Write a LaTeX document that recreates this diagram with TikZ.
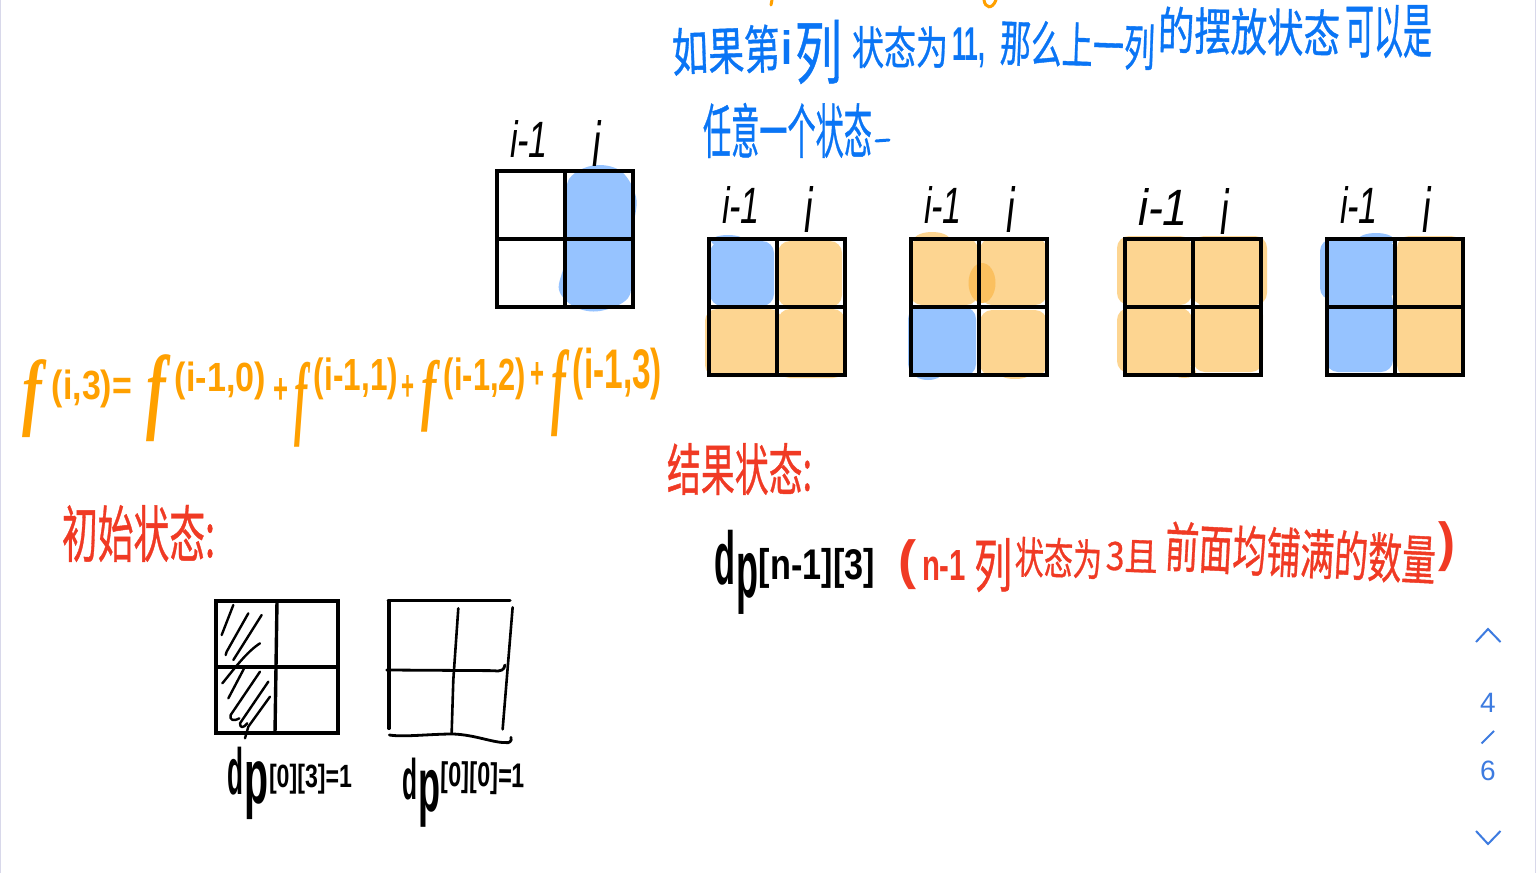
\documentclass[tikz,border=0pt]{standalone}
\usepackage{graphicx}
\usepackage{fontspec}
\setmainfont{Liberation Sans}
\newfontfamily\cjk{Noto Sans CJK SC}[FakeBold=0.8]
\newfontfamily\lser{Liberation Serif}
\newfontfamily\lsan{Liberation Sans}
\definecolor{inkblue}{HTML}{0A75F5}
\definecolor{inkorange}{HTML}{FFA000}
\definecolor{inkred}{HTML}{F03A24}
\definecolor{padblue}{HTML}{96C3FF}
\definecolor{padorange}{HTML}{FDD591}
\definecolor{paddark}{HTML}{FBC05F}
\definecolor{navblue}{HTML}{3D7BE0}
\definecolor{edgeline}{HTML}{D8D8EA}
\tikzset{
  handtext/.style={inner sep=0pt,outer sep=0pt},
  gridline/.style={line width=3.4pt,line cap=rect,line join=miter,black},
  penline/.style={line width=2.4pt,line cap=round,line join=round,black},
  navline/.style={line width=2pt,navblue,line join=miter},
  navtext/.style={inner sep=0pt,text=navblue,font=\lsan\fontsize{28}{28}\selectfont},
  pad/.style={rounded corners=12pt}
}
% name, x0, y0, x1, y1, rotation, colour, text
\newcommand\hw[8]{%
  \pgfmathsetmacro\hwW{#4-#2}\pgfmathsetmacro\hwH{#5-#3}%
  \node[handtext,rotate=#6,text=#7] (#1) at ({(#2+#4)/2},{(#3+#5)/2})
    {\resizebox*{\hwW pt}{\hwH pt}{#8}};}
\newcommand\bigf{\lser\bfseries\itshape\kern.14em f\kern.14em}
\newcommand\gridbox[2]{%
  \draw[gridline] (#1,#2) rectangle ++(136,136);
  \draw[gridline] (#1+68,#2) -- ++(0,136);
  \draw[gridline] (#1,#2+68) -- ++(136,0);}
\newcommand\pd[5]{\fill[pad,#1] (#2,#3) rectangle (#4,#5);}
\newcommand\collabel[5]{% prefix, i-1 x0, i-1 x1, i x0, y0
  \hw{#1a}{#2}{#5}{#3}{#5+37}{0}{black}{\lsan\itshape i-1}
  \hw{#1b}{#4}{#5+10}{#4+13}{#5+36}{0}{black}{\lsan\itshape\kern.06em i\kern.06em}}
\begin{document}
\begin{tikzpicture}[x=1pt,y=-1pt]
\useasboundingbox (0,0) rectangle (1536,873);
\fill[white] (0,0) rectangle (1536,873);
\draw[edgeline,line width=1.2pt] (0.5,0) -- (0.5,873);
\draw[edgeline,line width=1.2pt] (1535.5,0) -- (1535.5,873);

% cut-off strokes at the top edge
\draw[inkorange,line width=3pt,line cap=round] (772,0) -- (771,5);
\draw[inkorange,line width=3pt,line cap=round] (984,0) .. controls (985,8) and (992,10) .. (996,0);

% coloured pads
\fill[padblue] plot[smooth cycle,tension=0.6] coordinates {(598,165) (622,172) (636,197) (634,225) (631,270) (628,298) (600,311) (575,307) (559,290) (564,265) (565,240) (566,190) (575,173)};

\pd{padblue}{710}{241}{774}{306}
\fill[padblue] (728,241) ellipse (17 and 6);
\pd{padorange}{705}{309}{782}{377}
\pd{padorange}{778}{241}{842}{307}
\pd{padorange}{778}{309}{845}{378}

\pd{padorange}{910}{238}{978}{305}
\fill[padorange] (932,240) ellipse (18 and 8);
\pd{padorange}{980}{238}{1047}{305}
\fill[paddark] (982,283) ellipse (13.5 and 20);
\pd{padblue}{908}{307}{976}{376}
\fill[padblue] (928,373) ellipse (14 and 7);
\pd{padorange}{980}{310}{1047}{376}
\fill[padorange] (1015,374) ellipse (15 and 5);

\pd{padorange}{1117}{236}{1192}{305}
\pd{padorange}{1192}{236}{1267}{305}
\pd{padorange}{1117}{308}{1192}{373}
\fill[padorange] (1184,372) ellipse (12 and 6);
\pd{padorange}{1193}{303}{1263}{372}

\pd{padblue}{1320}{239}{1395}{300}
\fill[padblue] (1376,240) ellipse (18 and 7);
\pd{padblue}{1326}{290}{1393}{372}
\pd{padorange}{1397}{236}{1463}{377}

% grids
\gridbox{497}{171}
\gridbox{709}{239}
\gridbox{911}{239}
\gridbox{1125}{239}
\gridbox{1327}{239}

% column labels
\collabel{ga}{510}{548}{590}{120}
\collabel{gb}{722}{760}{802}{186}
\collabel{gc}{924}{962}{1004}{186}
\collabel{gd}{1138}{1188}{1218}{188}
\collabel{ge}{1340}{1378}{1420}{186}

% blue headline
\hw{t1}{672}{26}{780}{74}{2}{inkblue}{\cjk 如果第}
\hw{t2}{781}{30}{792}{64}{0}{inkblue}{\lsan\bfseries i}
\hw{t3}{795}{20}{842}{84}{0}{inkblue}{\cjk 列}
\hw{t4}{852}{26}{948}{68}{0}{inkblue}{\cjk 状态为}
\hw{t5}{952}{28}{985}{68}{0}{inkblue}{\lsan\bfseries 11,}
\hw{t6}{1000}{22}{1155}{68}{-2}{inkblue}{\cjk 那么上一列}
\hw{t7}{1158}{8}{1340}{55}{-1}{inkblue}{\cjk 的摆放状态}
\hw{t8}{1345}{5}{1432}{58}{0}{inkblue}{\cjk 可以是}
\hw{t9}{703}{103}{872}{158}{0}{inkblue}{\cjk 任意一个状态}
\draw[inkblue,line width=3pt,line cap=round] (876,141) -- (889,140);

% orange formula
\hw{f1}{14}{360}{50}{438}{0}{inkorange}{\bigf}
\hw{f2}{52}{370}{132}{408}{0}{inkorange}{\lsan\bfseries (i,3)=}
\hw{f3}{138}{355}{174}{442}{0}{inkorange}{\bigf}
\hw{f4}{175}{362}{266}{400}{0}{inkorange}{\lsan\bfseries (i-1,0)}
\hw{f5}{273}{378}{288}{403}{0}{inkorange}{\lsan\bfseries +}
\hw{f6}{289}{362}{313}{447}{0}{inkorange}{\bigf}
\hw{f7}{314}{358}{398}{400}{0}{inkorange}{\lsan\bfseries (i-1,1)}
\hw{f8}{401}{375}{414}{400}{0}{inkorange}{\lsan\bfseries +}
\hw{f9}{415}{360}{443}{432}{0}{inkorange}{\bigf}
\hw{f10}{444}{358}{526}{400}{0}{inkorange}{\lsan\bfseries (i-1,2)}
\hw{f11}{530}{362}{544}{388}{0}{inkorange}{\lsan\bfseries +}
\hw{f12}{545}{350}{572}{437}{0}{inkorange}{\bigf}
\hw{f13}{573}{348}{662}{400}{0}{inkorange}{\lsan\bfseries (i-1,3)}

% red headings
\hw{r1}{62}{505}{215}{562}{0}{inkred}{\cjk 初始状态:}
\hw{r2}{667}{443}{812}{495}{0}{inkred}{\cjk 结果状态:}

% dp[n-1][3]
\hw{d1}{714}{530}{735}{585}{0}{black}{\lsan\bfseries d}
\hw{d2}{736}{553}{758}{614}{0}{black}{\lsan\bfseries p}
\hw{d3}{759}{548}{875}{588}{0}{black}{\lsan\bfseries [n-1][3]}

% red explanation
\hw{e1}{898}{540}{916}{590}{0}{inkred}{\lsan\bfseries (}
\hw{e2}{922}{550}{966}{580}{0}{inkred}{\lsan\bfseries n-1}
\hw{e3}{974}{538}{1012}{592}{0}{inkred}{\cjk 列}
\hw{e4}{1015}{538}{1102}{578}{-2}{inkred}{\cjk 状态为}
\hw{e5}{1106}{540}{1158}{572}{-2}{inkred}{\cjk 3且}
\hw{e6}{1165}{528}{1436}{578}{-3}{inkred}{\cjk 前面均铺满的数量}
\hw{e7}{1438}{522}{1455}{572}{0}{inkred}{\lsan\bfseries )}

% bottom-left grids
\draw[gridline] (216,601) rectangle (338,733);
\draw[gridline] (277,601) -- (275,733);
\draw[gridline] (216,667) -- (338,667);

\begin{scope}[shift={(190,580)},x=0.3333pt,y=-0.3333pt]
\draw[penline] (130,75) -- (95,165);
\draw[penline] (175,100) -- (110,215) -- (107,225);
\draw[penline] (215,105) -- (130,240);
\draw[penline] (210,190) .. controls (170,215) and (130,270) .. (97,310);
\draw[penline] (165,260) -- (115,355);
\draw[penline] (210,275) -- (122,405) .. controls (118,420) and (130,425) .. (148,415);
\draw[penline] (235,305) -- (150,430) .. controls (150,445) and (160,445) .. (172,430);
\draw[penline] (240,350) -- (175,440) -- (165,475);

\draw[gridline,line cap=round] (595,62) -- (960,62);
\draw[gridline,line cap=round] (597,62) -- (597,445);
\draw[penline,line width=2.8pt] (590,270) -- (910,272) .. controls (935,275) and (942,270) .. (945,255);
\draw[penline,line width=2.6pt] (805,85) -- (790,300) -- (785,460);
\draw[penline,line width=2.6pt] (968,82) -- (938,448);
\draw[penline,line width=2.8pt] (598,465) .. controls (640,472) and (720,462) .. (790,462) .. controls (860,465) and (910,490) .. (955,488) .. controls (965,485) and (965,475) .. (963,472);
\end{scope}

% black dp labels
\hw{a1}{227}{747}{243}{795}{0}{black}{\lsan\bfseries d}
\hw{a2}{244}{762}{268}{820}{0}{black}{\lsan\bfseries p}
\hw{a3}{269}{764}{352}{794}{0}{black}{\lsan\bfseries [0][3]=1}
\hw{b1}{402}{758}{417}{800}{0}{black}{\lsan\bfseries d}
\hw{b2}{418}{770}{440}{827}{0}{black}{\lsan\bfseries p}
\hw{b3}{441}{762}{525}{794}{-1}{black}{\lsan\bfseries [0][0]=1}

% page navigation
\draw[navline] (1476,642) -- (1488,629) -- (1500.5,642);
\node[navtext] (nfour) at (1488,703) {4};
\coordinate (sa) at (1481.5,743.5);
\coordinate (sb) at (1494,731);
\draw[navblue,line width=2pt] (sa) -- (sb);
\node[navtext] (nsix) at (1488,771) {6};
\draw[navline] (1476,831) -- (1488,844) -- (1500.5,831);
\end{tikzpicture}
\end{document}
